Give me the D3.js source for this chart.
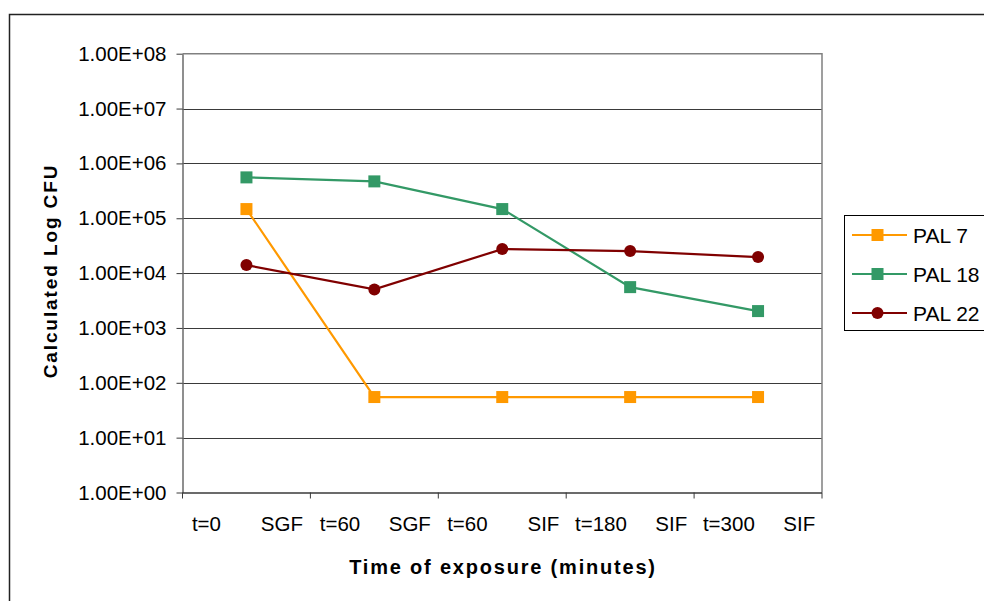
<!DOCTYPE html>
<html>
<head>
<meta charset="utf-8">
<script src="https://cdn.jsdelivr.net/npm/d3@7"></script>
<style>
  html, body { margin: 0; padding: 0; background: #fff; }
  svg { display: block; font-family: Arial, "Liberation Sans", sans-serif; }
  .xlab { white-space: pre; }
</style>
</head>
<body>
<svg id="chart" width="984" height="601"></svg>
<script>
// Exposure stages (category axis)
const categories = ["t0", "t60g", "t60i", "t180", "t300"];
const categoryLabels = ["t=0       SGF", "t=60     SGF", "t=60       SIF", "t=180     SIF", "t=300     SIF"];

// Calculated CFU per strain at each stage
const pal7  = [1.47e5, 55, 55, 55, 55];
const pal18 = [5.56e5, 4.7e5, 1.47e5, 5.55e3, 2.03e3];
const pal22 = [1.40e4, 5.04e3, 2.74e4, 2.52e4, 1.96e4];

const seriesNames = ["PAL 7", "PAL 18", "PAL 22"];
const seriesColors = ["#FF9900", "#339966", "#800000"];
const seriesShapes = ["square", "square", "circle"];

// Log axis ticks
const yTicks = [1e0, 1e1, 1e2, 1e3, 1e4, 1e5, 1e6, 1e7, 1e8];
const yTickLabels = ["1.00E+00", "1.00E+01", "1.00E+02", "1.00E+03", "1.00E+04",
                     "1.00E+05", "1.00E+06", "1.00E+07", "1.00E+08"];

const series = [pal7, pal18, pal22].map((vals, i) => ({
  name: seriesNames[i], color: seriesColors[i], shape: seriesShapes[i], values: vals
}));

const svg = d3.select("#chart");
const plot = { left: 182.5, right: 822, top: 53.7, bottom: 492.5 };

// Outer chart frame
svg.append("rect")
  .attr("x", 9.5).attr("y", 14.5)
  .attr("width", 1100).attr("height", 700)
  .attr("fill", "#fff").attr("stroke", "#222").attr("stroke-width", 1.5);

const x = d3.scaleBand().domain(categories).range([plot.left, plot.right]).padding(0);
const y = d3.scaleLog().domain([1, 1e8]).range([plot.bottom, plot.top]);

// Horizontal gridlines
svg.append("g").selectAll("line").data(yTicks.slice(1, -1)).join("line")
  .attr("x1", plot.left).attr("x2", plot.right)
  .attr("y1", d => Math.round(y(d)) + 0.5).attr("y2", d => Math.round(y(d)) + 0.5)
  .attr("stroke", "#3a3a3a").attr("stroke-width", 1);

// Plot area border (top and right)
svg.append("path")
  .attr("d", `M${plot.left},${plot.top}H${plot.right}V${plot.bottom}`)
  .attr("fill", "none").attr("stroke", "#808080").attr("stroke-width", 1.5);

// Y axis
const yAxis = d3.axisLeft(y)
  .tickValues(yTicks)
  .tickFormat((d, i) => yTickLabels[i])
  .tickSizeInner(6).tickSizeOuter(0).tickPadding(10);
const gy = svg.append("g").attr("transform", `translate(${plot.left},0)`).call(yAxis);
gy.select(".domain").attr("stroke", "#6a6a6a").attr("stroke-width", 1.5);
gy.selectAll(".tick line").attr("stroke", "#3a3a3a");
gy.selectAll(".tick text")
  .attr("font-family", "Arial, 'Liberation Sans', sans-serif")
  .attr("font-size", 20.5).attr("fill", "#000");

// X axis line and tick marks at category boundaries
const xEdges = categories.map(c => x(c)).concat([x(categories[categories.length - 1]) + x.bandwidth()]);
svg.append("line")
  .attr("x1", plot.left).attr("x2", plot.right)
  .attr("y1", plot.bottom + 0.5).attr("y2", plot.bottom + 0.5)
  .attr("stroke", "#3a3a3a").attr("stroke-width", 1.5);
svg.append("g").selectAll("line").data(xEdges).join("line")
  .attr("x1", d => d).attr("x2", d => d)
  .attr("y1", plot.bottom).attr("y2", plot.bottom + 6)
  .attr("stroke", "#3a3a3a").attr("stroke-width", 1);

// Category labels
svg.append("g").selectAll("text").data(categories).join("text")
  .attr("class", "xlab")
  .attr("x", d => x(d) + x.bandwidth() / 2 + 1)
  .attr("y", 530.5)
  .attr("text-anchor", "middle")
  .attr("font-size", 20.5)
  .attr("fill", "#000")
  .text((d, i) => categoryLabels[i]);

// Axis titles
svg.append("text")
  .attr("x", 503).attr("y", 574)
  .attr("text-anchor", "middle")
  .attr("font-size", 20).attr("font-weight", "bold")
  .attr("letter-spacing", "1.8px")
  .text("Time of exposure (minutes)");

svg.append("text")
  .attr("transform", "translate(57,271) rotate(-90)")
  .attr("text-anchor", "middle")
  .attr("font-size", 19).attr("font-weight", "bold")
  .attr("letter-spacing", "1.9px")
  .text("Calculated Log CFU");

// Series lines and markers
const line = d3.line()
  .x((d, i) => x(categories[i]) + x.bandwidth() / 2)
  .y(d => y(d));

function drawMarker(g, shape, color, cx, cy) {
  if (shape === "circle") {
    g.append("circle").attr("cx", cx).attr("cy", cy).attr("r", 6).attr("fill", color);
  } else {
    g.append("rect").attr("x", cx - 6).attr("y", cy - 6)
      .attr("width", 12).attr("height", 12).attr("fill", color);
  }
}

series.forEach(s => {
  const g = svg.append("g");
  g.append("path").datum(s.values)
    .attr("d", line)
    .attr("fill", "none").attr("stroke", s.color).attr("stroke-width", 2.2);
  s.values.forEach((v, i) => {
    drawMarker(g, s.shape, s.color, x(categories[i]) + x.bandwidth() / 2, y(v));
  });
});

// Legend
const legend = svg.append("g");
legend.append("rect")
  .attr("x", 844.5).attr("y", 215.5).attr("width", 200).attr("height", 115)
  .attr("fill", "#fff").attr("stroke", "#000").attr("stroke-width", 1);
series.forEach((s, i) => {
  const ly = 235 + i * 39;
  const g = legend.append("g");
  g.append("line").attr("x1", 852).attr("x2", 907).attr("y1", ly).attr("y2", ly)
    .attr("stroke", s.color).attr("stroke-width", 2.2);
  drawMarker(g, s.shape, s.color, 877.5, ly);
  g.append("text").attr("x", 913).attr("y", ly).attr("dy", "0.36em")
    .attr("font-size", 21).attr("fill", "#000").text(s.name);
});
</script>
</body>
</html>
